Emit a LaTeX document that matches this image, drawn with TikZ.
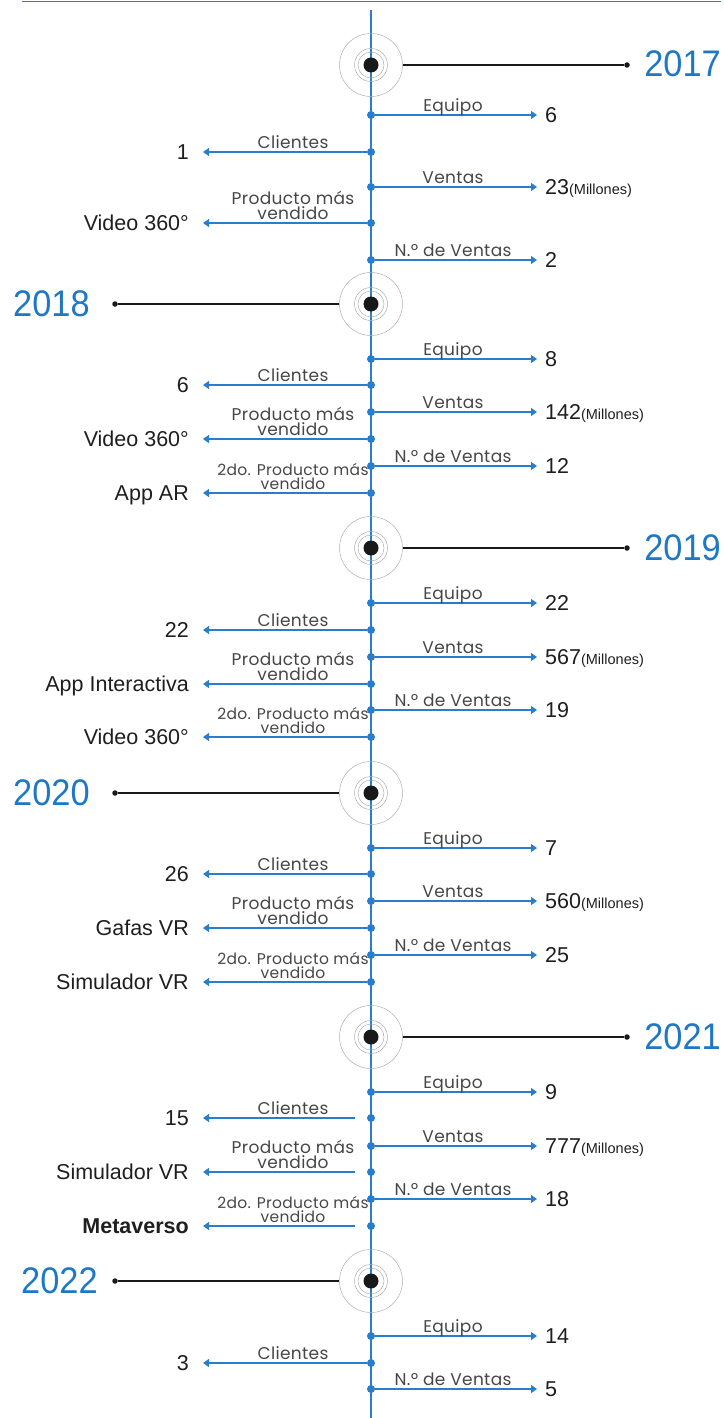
\documentclass[tikz,border=0pt]{standalone}
\usepackage{fontspec}
\usetikzlibrary{arrows.meta}
\setmainfont{Liberation Sans}
\newfontfamily\lblfont[LetterSpace=2]{Poppins}
\newfontfamily\valfont{Liberation Sans}
\definecolor{tlblue}{RGB}{40,126,204}
\definecolor{yrblue}{RGB}{30,120,196}
\definecolor{lblgray}{RGB}{70,70,70}
\definecolor{valblack}{RGB}{30,30,30}
\definecolor{ringgray}{RGB}{175,175,175}
\newcommand\mill{{\fontsize{14.5pt}{16pt}\selectfont(Millones)}}
\tikzset{
 bdot/.style={circle, fill=tlblue, inner sep=0pt, minimum size=8pt},
 conn/.style={draw=tlblue, line width=1.3pt, -{Triangle[length=6pt,width=8pt]}},
 vline/.style={draw=tlblue, line width=2pt},
 lbl/.style={font={\fontsize{17pt}{15pt}\lblfont}, text=lblgray, inner sep=0pt, anchor=base, align=center},
 lbltwo/.style={lbl, anchor=south},
 lblsmall/.style={lbltwo, font={\fontsize{15.5pt}{14pt}\lblfont}},
 val/.style={font={\fontsize{21.5pt}{24pt}\valfont}, text=valblack, inner sep=0pt},
 yeartext/.style={font={\fontsize{37pt}{40pt}\valfont}, text=yrblue, inner sep=0pt},
 ringnode/.style={circle, draw=ringgray, line width=0.5pt, inner sep=0pt, minimum size=#1},
 ydot/.style={circle, fill=black!90, inner sep=0pt, minimum size=15pt},
 yline/.style={draw=black!90, line width=1.6pt},
 edot/.style={circle, fill=black!90, inner sep=0pt, minimum size=5.5pt},
}
\newcommand\RItem[4]{%
  \node[bdot] (#1) at (371,#2) {};
  \coordinate (#1t) at (537,#2);
  \draw[conn] (#1) -- (#1t);
  \node[lbl] (#1l) at (453,#2-3.5) {#3};
  \node[val,anchor=base west] (#1v) at (545,#2+7.5) {#4};}
\newcommand\LItem[5]{%
  \node[bdot] (#1) at (371,#2) {};
  \coordinate (#1t) at (203,#2);
  \draw[conn] (#1) -- (#1t);
  \node[#3] (#1l) at (293,#2-3.5) {#4};
  \node[val,anchor=base east] (#1v) at (189,#2+7.5) {#5};}
\newcommand\LItemG[5]{%
  \node[bdot] (#1) at (371,#2) {};
  \coordinate (#1s) at (355,#2);
  \coordinate (#1t) at (203,#2);
  \draw[conn] (#1s) -- (#1t);
  \node[#3] (#1l) at (293,#2-3.5) {#4};
  \node[val,anchor=base east] (#1v) at (189,#2+7.5) {#5};}
\newcommand\YearRings[2]{%
  \node[ringnode=63pt] (#1o) at (371,#2) {};
  \node[ringnode=33pt] (#1m) at (371,#2) {};
  \node[ringnode=26pt] (#1i) at (371,#2) {};
  \node[ydot] (#1) at (371,#2) {};}
\newcommand\YearR[3]{%
  \YearRings{#1}{#2}
  \node[edot] (#1e) at (627,#2) {};
  \draw[yline] (#1o) -- (#1e);
  \node[yeartext, anchor=base east] (#1y) at (721,#2+12) {\scalebox{0.93}[1]{#3}};}
\newcommand\YearL[4]{%
  \YearRings{#1}{#2}
  \node[edot] (#1e) at (115,#2) {};
  \draw[yline] (#1o) -- (#1e);
  \node[yeartext, anchor=base west] (#1y) at (#4,#2+12) {\scalebox{0.93}[1]{#3}};}
\begin{document}
\begin{tikzpicture}[x=1pt,y=-1pt]
\useasboundingbox (0,0) rectangle (723,1418);
\coordinate (hl) at (22,1.5);
\coordinate (hr) at (721,1.5);
\draw[draw=tlblue, line width=1.5pt] (hl) -- (hr);
\coordinate (vtop) at (371,10);
\coordinate (vbot) at (371,1418);
\draw[vline] (vtop) -- (vbot);
% 2017
\YearR{y17}{65}{2017}
\RItem{a1}{115}{Equipo}{6}
\LItem{a2}{152}{lbl}{Clientes}{1}
\RItem{a3}{187}{Ventas}{23\mill}
\LItem{a4}{223}{lbltwo}{Producto más\\vendido}{Video 360°}
\RItem{a5}{260}{N.º de Ventas}{2}
% 2018
\YearL{y18}{304}{2018}{13}
\RItem{b1}{359}{Equipo}{8}
\LItem{b2}{385}{lbl}{Clientes}{6}
\RItem{b3}{412}{Ventas}{142\mill}
\LItem{b4}{439}{lbltwo}{Producto más\\vendido}{Video 360°}
\RItem{b5}{466}{N.º de Ventas}{12}
\LItem{b6}{493}{lblsmall}{2do. Producto más\\vendido}{App AR}
% 2019
\YearR{y19}{548}{2019}
\RItem{c1}{603}{Equipo}{22}
\LItem{c2}{630}{lbl}{Clientes}{22}
\RItem{c3}{657}{Ventas}{567\mill}
\LItem{c4}{684}{lbltwo}{Producto más\\vendido}{App Interactiva}
\RItem{c5}{710}{N.º de Ventas}{19}
\LItem{c6}{737}{lblsmall}{2do. Producto más\\vendido}{Video 360°}
% 2020
\YearL{y20}{793}{2020}{13}
\RItem{d1}{848}{Equipo}{7}
\LItem{d2}{874}{lbl}{Clientes}{26}
\RItem{d3}{901}{Ventas}{560\mill}
\LItem{d4}{928}{lbltwo}{Producto más\\vendido}{Gafas VR}
\RItem{d5}{955}{N.º de Ventas}{25}
\LItem{d6}{982}{lblsmall}{2do. Producto más\\vendido}{Simulador VR}
% 2021
\YearR{y21}{1037}{2021}
\RItem{e1}{1092}{Equipo}{9}
\LItemG{e2}{1118}{lbl}{Clientes}{15}
\RItem{e3}{1146}{Ventas}{777\mill}
\LItemG{e4}{1172}{lbltwo}{Producto más\\vendido}{Simulador VR}
\RItem{e5}{1199}{N.º de Ventas}{18}
\LItemG{e6}{1226}{lblsmall}{2do. Producto más\\vendido}{\bfseries Metaverso}
% 2022
\YearL{y22}{1281}{2022}{21}
\RItem{f1}{1336}{Equipo}{14}
\LItem{f2}{1363}{lbl}{Clientes}{3}
\RItem{f3}{1389}{N.º de Ventas}{5}
\end{tikzpicture}
\end{document}
